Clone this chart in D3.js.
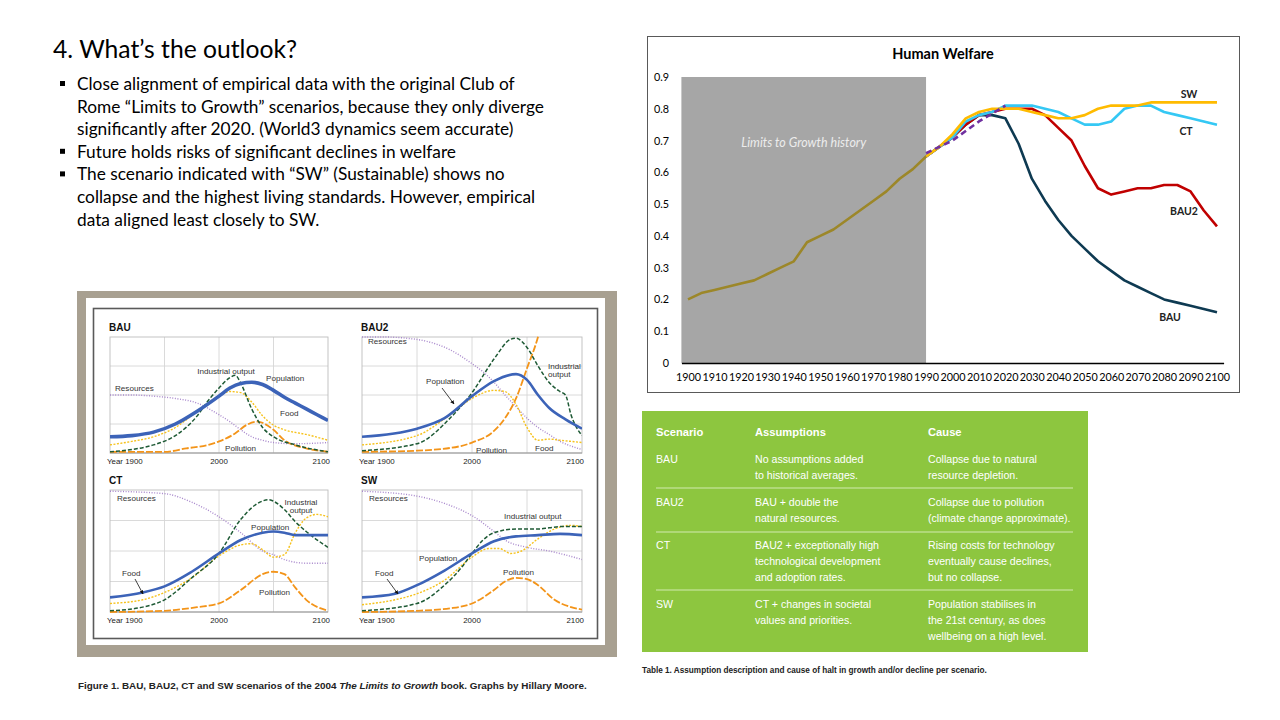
<!DOCTYPE html>
<meta charset="utf-8">
<style>
body { margin: 0; background: #fff; }
svg { display: block; }
.slide text { font-family: Lato, "Open Sans", sans-serif; }
.fig text { font-family: "Liberation Sans", Arial, sans-serif; }
</style>
<svg width="1280" height="720"></svg>
<script src="https://d3js.org/d3.v7.min.js"></script>
<script>

// ---- slide text ----
var slideTitle = "4. What\u2019s the outlook?";
var bullets = [
  ["Close alignment of empirical data with the original Club of",
   "Rome \u201cLimits to Growth\u201d scenarios, because they only diverge",
   "significantly after 2020. (World3 dynamics seem accurate)"],
  ["Future holds risks of significant declines in welfare"],
  ["The scenario indicated with \u201cSW\u201d (Sustainable) shows no",
   "collapse and the highest living standards. However, empirical",
   "data aligned least closely to SW."]
];

// ---- Human Welfare chart ----
var welfareTicksY = [0, 0.1, 0.2, 0.3, 0.4, 0.5, 0.6, 0.7, 0.8, 0.9];
var welfareTicksX = [1900, 1910, 1920, 1930, 1940, 1950, 1960, 1970, 1980, 1990, 2000,
                     2010, 2020, 2030, 2040, 2050, 2060, 2070, 2080, 2090, 2100];
var historyYears = [1900, 1905, 1910, 1915, 1920, 1925, 1930, 1935, 1940, 1945,
                    1950, 1955, 1960, 1965, 1970, 1975, 1980, 1985, 1990];
var historyValues = [0.20, 0.22, 0.23, 0.24, 0.25, 0.26, 0.28, 0.30, 0.32, 0.38,
                     0.40, 0.42, 0.45, 0.48, 0.51, 0.54, 0.58, 0.61, 0.65];
var empiricalYears = [1990, 1995, 2000, 2005, 2010, 2015, 2020];
var empiricalValues = [0.66, 0.68, 0.70, 0.73, 0.76, 0.785, 0.81];
var scenarioYears = [1990, 1995, 2000, 2005, 2010, 2015, 2020, 2025, 2030, 2035, 2040, 2045,
                     2050, 2055, 2060, 2065, 2070, 2075, 2080, 2085, 2090, 2095, 2100];
var bauValues  = [0.65, 0.68, 0.71, 0.75, 0.78, 0.78, 0.77, 0.69, 0.58, 0.51, 0.45, 0.40,
                  0.36, 0.32, 0.29, 0.26, 0.24, 0.22, 0.20, 0.19, 0.18, 0.17, 0.16];
var bau2Values = [0.65, 0.68, 0.71, 0.75, 0.78, 0.79, 0.80, 0.80, 0.80, 0.78, 0.74, 0.70,
                  0.62, 0.55, 0.53, 0.54, 0.55, 0.55, 0.56, 0.56, 0.54, 0.48, 0.43];
var ctValues   = [0.65, 0.68, 0.71, 0.76, 0.78, 0.79, 0.81, 0.81, 0.81, 0.80, 0.79, 0.77,
                  0.75, 0.75, 0.76, 0.80, 0.81, 0.81, 0.79, 0.78, 0.77, 0.76, 0.75];
var swValues   = [0.65, 0.68, 0.72, 0.77, 0.79, 0.80, 0.80, 0.80, 0.79, 0.78, 0.77, 0.77,
                  0.78, 0.80, 0.81, 0.81, 0.81, 0.82, 0.82, 0.82, 0.82, 0.82, 0.82];

// ---- Limits to Growth panels (year, share of panel height) ----
var bauResources = [[1900,.50],[1920,.50],[1940,.49],[1960,.47],[1980,.43],[2000,.33],[2010,.27],[2020,.20],[2030,.14],[2040,.11],[2050,.09],[2070,.08],[2100,.09]];
var bauIndustry  = [[1900,.01],[1920,.03],[1940,.07],[1960,.15],[1980,.32],[1990,.45],[2000,.56],[2010,.65],[2015,.67],[2020,.60],[2030,.38],[2040,.22],[2050,.14],[2070,.07],[2100,.01]];
var bauPopulation = [[1900,.14],[1920,.15],[1940,.18],[1960,.25],[1980,.36],[2000,.49],[2010,.56],[2020,.60],[2030,.61],[2040,.59],[2050,.54],[2060,.48],[2070,.43],[2080,.38],[2090,.33],[2100,.28]];
var bauFood      = [[1900,.07],[1920,.10],[1940,.14],[1960,.22],[1980,.36],[2000,.49],[2010,.53],[2020,.52],[2030,.44],[2040,.32],[2050,.24],[2060,.20],[2080,.16],[2100,.11]];
var bauPollution = [[1900,.01],[1950,.01],[1970,.04],[1990,.07],[2000,.10],[2015,.17],[2025,.24],[2035,.27],[2050,.20],[2060,.11],[2080,.04],[2100,.01]];

var bau2Resources = [[1900,1.0],[1920,1.0],[1940,.99],[1960,.96],[1980,.89],[2000,.77],[2010,.70],[2020,.61],[2030,.50],[2040,.40],[2050,.30],[2060,.22],[2070,.16],[2080,.10],[2090,.06],[2100,.03]];
var bau2Industry  = [[1900,.02],[1950,.08],[1980,.30],[2000,.52],[2020,.81],[2035,.98],[2040,.99],[2050,.91],[2060,.75],[2070,.61],[2080,.53],[2085,.50],[2090,.33],[2100,.15]];
var bau2Population = [[1900,.14],[1950,.21],[1975,.30],[2000,.49],[2020,.62],[2040,.68],[2050,.63],[2060,.50],[2070,.39],[2085,.29],[2100,.21]];
var bau2Food      = [[1900,.07],[1950,.15],[1980,.33],[2000,.47],[2020,.54],[2030,.53],[2040,.42],[2050,.22],[2060,.11],[2070,.12],[2080,.11],[2100,.09]];
var bau2Pollution = [[1900,.01],[1950,.02],[1990,.06],[2000,.09],[2020,.19],[2030,.30],[2040,.47],[2050,.73],[2060,1.0],[2070,1.4]];

var ctResources = [[1900,.99],[1950,.97],[1975,.90],[2000,.78],[2020,.65],[2040,.50],[2050,.47],[2060,.43],[2080,.40],[2100,.40]];
var ctIndustry  = [[1900,.01],[1930,.04],[1950,.10],[1975,.28],[2000,.48],[2020,.76],[2040,.91],[2045,.92],[2060,.84],[2070,.74],[2080,.66],[2100,.53]];
var ctPopulation = [[1900,.12],[1930,.16],[1950,.21],[1975,.33],[2000,.48],[2020,.59],[2040,.65],[2050,.66],[2060,.65],[2070,.63],[2100,.63]];
var ctFood      = [[1900,.07],[1930,.10],[1950,.16],[1975,.28],[2000,.46],[2020,.55],[2030,.56],[2040,.51],[2050,.45],[2060,.47],[2070,.65],[2080,.77],[2090,.80],[2100,.78]];
var ctPollution = [[1900,.00],[1950,.01],[1980,.04],[2000,.07],[2020,.18],[2040,.31],[2050,.33],[2060,.31],[2070,.20],[2080,.10],[2100,.01]];

var swResources = [[1900,.99],[1950,.95],[1975,.89],[2000,.79],[2020,.66],[2030,.59],[2050,.53],[2070,.50],[2100,.43]];
var swIndustry  = [[1900,.01],[1950,.07],[1975,.22],[1990,.36],[2000,.48],[2010,.59],[2020,.65],[2040,.68],[2050,.68],[2060,.68],[2070,.69],[2080,.70],[2100,.70]];
var swPopulation = [[1900,.12],[1930,.15],[1950,.22],[1975,.34],[2000,.48],[2020,.58],[2040,.62],[2060,.63],[2080,.64],[2100,.63]];
var swFood      = [[1900,.06],[1930,.10],[1950,.15],[1975,.26],[2000,.45],[2015,.52],[2025,.52],[2035,.48],[2045,.50],[2060,.60],[2075,.68],[2090,.71],[2100,.70]];
var swPollution = [[1900,.00],[1950,.01],[1980,.03],[2000,.07],[2020,.18],[2030,.25],[2040,.28],[2050,.27],[2060,.22],[2075,.10],[2090,.04],[2100,.02]];

// ---- table ----
var tableHeader = ["Scenario", "Assumptions", "Cause"];
var tableScenarios = ["BAU", "BAU2", "CT", "SW"];
var tableAssumptions = [
  ["No assumptions added", "to historical averages."],
  ["BAU + double the", "natural resources."],
  ["BAU2 + exceptionally high", "technological development", "and adoption rates."],
  ["CT + changes in societal", "values and priorities."]
];
var tableCauses = [
  ["Collapse due to natural", "resource depletion."],
  ["Collapse due to pollution", "(climate change approximate)."],
  ["Rising costs for technology", "eventually cause declines,", "but no collapse."],
  ["Population stabilises in", "the 21st century, as does", "wellbeing on a high level."]
];

var svg = d3.select("svg");

// ================= slide text =================
var slide = svg.append("g").attr("class", "slide");

slide.append("text")
    .attr("x", 53).attr("y", 58)
    .attr("font-size", 24.7)
    .attr("fill", "#000")
    .text(slideTitle);

var lineY = 90;
bullets.forEach(function(b) {
  slide.append("rect")
      .attr("x", 60).attr("y", lineY - 9)
      .attr("width", 5).attr("height", 5)
      .attr("fill", "#000");
  b.forEach(function(line) {
    slide.append("text")
        .attr("x", 77).attr("y", lineY)
        .attr("font-size", 17.3)
        .attr("fill", "#000")
        .text(line);
    lineY += 22.6;
  });
});

// ================= Human Welfare =================
var hw = svg.append("g").attr("class", "slide");

hw.append("rect")
    .attr("x", 647.5).attr("y", 36.5)
    .attr("width", 592).attr("height", 356)
    .attr("fill", "#fff")
    .attr("stroke", "#595959");

var x = d3.scaleLinear().domain([1897.5, 2102.5]).range([681.4, 1223.6]);
var y = d3.scaleLinear().domain([0, 0.9]).range([363, 77]);

hw.append("rect")
    .attr("x", x(1897.5)).attr("y", y(0.9))
    .attr("width", x(1990) - x(1897.5))
    .attr("height", y(0) - y(0.9))
    .attr("fill", "#a6a6a6");

hw.append("text")
    .attr("x", (x(1897.5) + x(1990)) / 2).attr("y", 147)
    .attr("text-anchor", "middle")
    .attr("font-size", 12.5)
    .attr("font-style", "italic")
    .attr("fill", "#ececec")
    .text("Limits to Growth history");

var xAxis = hw.append("g")
    .attr("transform", "translate(0," + y(0) + ")")
    .call(d3.axisBottom(x).tickValues(welfareTicksX).tickSize(0).tickPadding(10)
      .tickFormat(d3.format("d")));
xAxis.select(".domain").attr("stroke", "#000").attr("stroke-width", 1.6);
xAxis.selectAll("text").attr("font-size", 10.8).attr("fill", "#000")
    .attr("font-family", "Lato, sans-serif");

var yAxis = hw.append("g")
    .attr("transform", "translate(669,0)")
    .call(d3.axisLeft(y).tickValues(welfareTicksY).tickSize(0).tickPadding(0)
      .tickFormat(function(d) { return d === 0 ? "0" : d3.format(".1f")(d); }));
yAxis.select(".domain").remove();
yAxis.selectAll("text").attr("font-size", 10.8).attr("fill", "#000")
    .attr("font-family", "Lato, sans-serif");

var welfareLine = d3.line()
    .x(function(d) { return x(d[0]); })
    .y(function(d) { return y(d[1]); });

function pairs(xs, ys) { return xs.map(function(v, i) { return [v, ys[i]]; }); }

var welfareSeries = [
  { data: pairs(scenarioYears, bauValues),  color: "#0e3a52", dash: null },
  { data: pairs(scenarioYears, bau2Values), color: "#c00000", dash: null },
  { data: pairs(scenarioYears, ctValues),   color: "#35c8f4", dash: null },
  { data: pairs(scenarioYears, swValues),   color: "#ffbb00", dash: null },
  { data: pairs(historyYears, historyValues), color: "#9c8729", dash: null },
  { data: pairs(empiricalYears, empiricalValues), color: "#7030a0", dash: "6,4" }
];

hw.selectAll(".wline")
    .data(welfareSeries)
    .enter().append("path")
    .attr("class", "wline")
    .attr("d", function(d) { return welfareLine(d.data); })
    .attr("fill", "none")
    .attr("stroke", function(d) { return d.color; })
    .attr("stroke-width", 2.6)
    .attr("stroke-linejoin", "round")
    .attr("stroke-dasharray", function(d) { return d.dash; });

var welfareLabels = [
  { text: "SW",   x: 1189, y: 98 },
  { text: "CT",   x: 1186, y: 135 },
  { text: "BAU2", x: 1184, y: 215 },
  { text: "BAU",  x: 1170, y: 321 }
];
hw.selectAll(".wlab")
    .data(welfareLabels)
    .enter().append("text")
    .attr("x", function(d) { return d.x; })
    .attr("y", function(d) { return d.y; })
    .attr("text-anchor", "middle")
    .attr("font-size", 10.5)
    .attr("font-weight", "bold")
    .attr("fill", "#222")
    .text(function(d) { return d.text; });

hw.append("text")
    .attr("x", 943).attr("y", 59)
    .attr("text-anchor", "middle")
    .attr("font-size", 14.5)
    .attr("font-weight", "bold")
    .attr("fill", "#000")
    .text("Human Welfare");

// ================= Figure 1 panels =================
var fig = svg.append("g").attr("class", "fig");

fig.append("rect").attr("x", 77).attr("y", 291).attr("width", 540).attr("height", 366)
    .attr("fill", "#a8a091");
fig.append("rect").attr("x", 86).attr("y", 298).attr("width", 519).attr("height", 347)
    .attr("fill", "#fff");
fig.append("rect").attr("x", 93.5).attr("y", 308.5).attr("width", 504).attr("height", 330)
    .attr("fill", "#fff").attr("stroke", "#5a5a5a").attr("stroke-width", 1.6);

var defs = svg.append("defs");
defs.append("marker")
    .attr("id", "arrow")
    .attr("viewBox", "0 0 10 10")
    .attr("refX", 9).attr("refY", 5)
    .attr("markerWidth", 5).attr("markerHeight", 5)
    .attr("orient", "auto")
  .append("path")
    .attr("d", "M0,0L10,5L0,10z")
    .attr("fill", "#111");

var panels = [
  { name: "BAU", box: [110, 328, 337, 453],
    series: [bauResources, bauPollution, bauFood, bauIndustry, bauPopulation], popWidth: 3.6,
    labels: [["Industrial output", 226, 374, "middle"], ["Population", 266, 381, "start"],
             ["Resources", 115, 391, "start"], ["Food", 280, 416, "start"], ["Pollution", 225, 451, "start"]],
    arrows: [] },
  { name: "BAU2", box: [362, 582, 337, 453],
    series: [bau2Resources, bau2Pollution, bau2Food, bau2Industry, bau2Population], popWidth: 2.6,
    labels: [["Resources", 368, 344, "start"], ["Industrial", 548, 369, "start"], ["output", 548, 377, "start"],
             ["Population", 426, 384, "start"], ["Pollution", 476, 453, "start"], ["Food", 535, 451, "start"]],
    arrows: [[442, 388, 454, 404]] },
  { name: "CT", box: [110, 328, 490, 612],
    series: [ctResources, ctPollution, ctFood, ctIndustry, ctPopulation], popWidth: 2.6,
    labels: [["Resources", 117, 501, "start"], ["Industrial", 301, 505, "middle"], ["output", 301, 513, "middle"],
             ["Population", 251, 530, "start"], ["Food", 122, 576, "start"], ["Pollution", 259, 595, "start"]],
    arrows: [[135, 579, 143, 594]] },
  { name: "SW", box: [362, 582, 490, 612],
    series: [swResources, swPollution, swFood, swIndustry, swPopulation], popWidth: 2.6,
    labels: [["Resources", 369, 501, "start"], ["Industrial output", 504, 519, "start"],
             ["Population", 419, 561, "start"], ["Food", 375, 576, "start"], ["Pollution", 503, 575, "start"]],
    arrows: [[387, 579, 398, 594]] }
];

// resources, pollution, food, industry, population
var seriesStyle = [
  { color: "#a887cc", width: 1.4, dash: "1,1.6" },
  { color: "#f39419", width: 1.8, dash: "7,2" },
  { color: "#f6c21c", width: 1.4, dash: "2,1.5" },
  { color: "#1e5a35", width: 1.5, dash: "4,2" },
  { color: "#3c63b8", width: 2.6, dash: null }
];

panels.forEach(function(p, pi) {
  var g = fig.append("g");
  var px = d3.scaleLinear().domain([1900, 2100]).range([p.box[0], p.box[1]]);
  var py = d3.scaleLinear().domain([0, 1]).range([p.box[3], p.box[2]]);

  g.append("text")
      .attr("x", p.box[0] - 1).attr("y", p.box[2] - 6)
      .attr("font-size", 10).attr("font-weight", "bold").attr("fill", "#111")
      .text(p.name);

  g.selectAll(".vg").data([1950, 2000, 2050]).enter().append("line")
      .attr("x1", px).attr("x2", px)
      .attr("y1", py(0)).attr("y2", py(1))
      .attr("stroke", "#d6d6d6").attr("stroke-width", 0.9);
  g.selectAll(".hg").data([0.25, 0.5, 0.75]).enter().append("line")
      .attr("x1", px(1900)).attr("x2", px(2100))
      .attr("y1", py).attr("y2", py)
      .attr("stroke", "#d6d6d6").attr("stroke-width", 0.9);
  g.append("rect")
      .attr("x", px(1900)).attr("y", py(1))
      .attr("width", px(2100) - px(1900)).attr("height", py(0) - py(1))
      .attr("fill", "none").attr("stroke", "#bdbdbd").attr("stroke-width", 0.9);
  g.append("line")
      .attr("x1", px(1900)).attr("x2", px(2100))
      .attr("y1", py(0)).attr("y2", py(0))
      .attr("stroke", "#999").attr("stroke-width", 1.2);

  var clipId = "clip" + pi;
  defs.append("clipPath").attr("id", clipId).append("rect")
      .attr("x", px(1900)).attr("y", py(1) - 1)
      .attr("width", px(2100) - px(1900)).attr("height", py(0) - py(1) + 2);

  var line = d3.line()
      .curve(d3.curveMonotoneX)
      .x(function(d) { return px(d[0]); })
      .y(function(d) { return py(d[1]); });

  g.append("g").attr("clip-path", "url(#" + clipId + ")")
    .selectAll("path").data(p.series).enter().append("path")
      .attr("d", line)
      .attr("fill", "none")
      .attr("stroke", function(d, i) { return seriesStyle[i].color; })
      .attr("stroke-width", function(d, i) { return i === 4 ? p.popWidth : seriesStyle[i].width; })
      .attr("stroke-dasharray", function(d, i) { return seriesStyle[i].dash; });

  g.selectAll(".lab").data(p.labels).enter().append("text")
      .attr("x", function(d) { return d[1]; })
      .attr("y", function(d) { return d[2]; })
      .attr("text-anchor", function(d) { return d[3]; })
      .attr("font-size", 8.1).attr("fill", "#333")
      .text(function(d) { return d[0]; });

  g.selectAll(".arr").data(p.arrows).enter().append("line")
      .attr("x1", function(d) { return d[0]; }).attr("y1", function(d) { return d[1]; })
      .attr("x2", function(d) { return d[2]; }).attr("y2", function(d) { return d[3]; })
      .attr("stroke", "#111").attr("stroke-width", 0.8)
      .attr("marker-end", "url(#arrow)");

  var ax = g.append("g");
  ax.append("text").attr("x", px(1900) - 3).attr("y", py(0) + 11)
      .attr("font-size", 7.9).attr("fill", "#222").text("Year 1900");
  ax.append("text").attr("x", px(2000)).attr("y", py(0) + 11).attr("text-anchor", "middle")
      .attr("font-size", 7.9).attr("fill", "#222").text("2000");
  ax.append("text").attr("x", px(2100) + 2).attr("y", py(0) + 11).attr("text-anchor", "end")
      .attr("font-size", 7.9).attr("fill", "#222").text("2100");
});

var cap = fig.append("text").attr("x", 78).attr("y", 689)
    .attr("font-size", 9.9).attr("font-weight", "bold").attr("fill", "#222");
cap.append("tspan").text("Figure 1. BAU, BAU2, CT and SW scenarios of the 2004 ");
cap.append("tspan").attr("font-style", "italic").text("The Limits to Growth");
cap.append("tspan").text(" book. Graphs by Hillary Moore.");

// ================= Table 1 =================
var tb = svg.append("g").attr("class", "fig");
tb.append("rect").attr("x", 642).attr("y", 411).attr("width", 446).attr("height", 241)
    .attr("fill", "#8dc63f");

var colX = [656, 755, 928];
var rowStart = [462.5, 505.5, 548.5, 607.5];
var sepY = [488, 532, 590];

tb.selectAll(".hd").data(tableHeader).enter().append("text")
    .attr("x", function(d, i) { return colX[i]; }).attr("y", 435.5)
    .attr("font-size", 11.2).attr("font-weight", "bold").attr("fill", "#fff")
    .text(function(d) { return d; });

tb.selectAll(".sep").data(sepY).enter().append("line")
    .attr("x1", 656).attr("x2", 1073)
    .attr("y1", function(d) { return d; }).attr("y2", function(d) { return d; })
    .attr("stroke", "#d2eab0").attr("stroke-width", 1);

tableScenarios.forEach(function(s, i) {
  tb.append("text").attr("x", colX[0]).attr("y", rowStart[i])
      .attr("font-size", 10.6).attr("fill", "#fff").text(s);
  [tableAssumptions[i], tableCauses[i]].forEach(function(lines, c) {
    lines.forEach(function(l, k) {
      tb.append("text").attr("x", colX[c + 1]).attr("y", rowStart[i] + k * 16)
          .attr("font-size", 10.6).attr("fill", "#fff").text(l);
    });
  });
});

tb.append("text").attr("x", 642).attr("y", 673)
    .attr("font-size", 8.2).attr("font-weight", "bold").attr("fill", "#222")
    .text("Table 1. Assumption description and cause of halt in growth and/or decline per scenario.");

</script>
